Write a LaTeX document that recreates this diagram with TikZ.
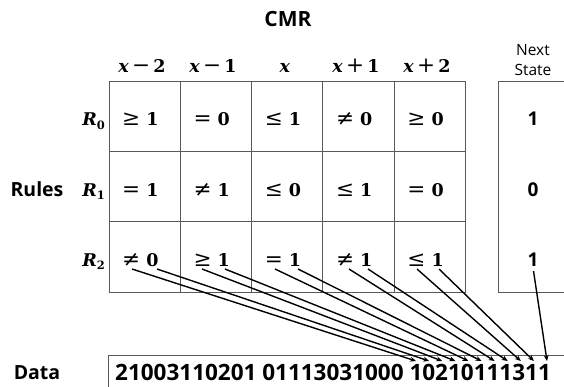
\documentclass[tikz,border=0pt]{standalone}
\usepackage{fontspec}
\setmainfont{Open Sans}
\newfontfamily\dvs{DejaVu Serif}
\usetikzlibrary{arrows.meta}
\newcommand{\hx}{\textbf{\textit{x}}}
\newcommand{\bigsym}[1]{{\fontsize{21.5}{20}\selectfont #1}}
\newcommand{\cnd}[2]{\bigsym{#1}\hspace{0.35em}\textbf{#2}}
\newcommand{\hdrt}[2]{\hx\hspace{0.18em}\bigsym{#1}\hspace{0.18em}\textbf{#2}}
\newcommand{\rsub}[1]{\textbf{\textit{R}}\raisebox{-3.5pt}{\fontsize{11.5}{12}\selectfont\textbf{#1}}}
\tikzset{
  grid/.style={draw=black!65, line width=0.9pt},
  title/.style={font=\fontsize{21}{24}\selectfont\bfseries, inner sep=0, anchor=base},
  lbl/.style={font=\fontsize{19.5}{22}\selectfont\bfseries, inner sep=0, anchor=base},
  hdr/.style={font=\fontsize{17.5}{20}\selectfont\dvs, inner sep=0, anchor=base},
  cond/.style={font=\fontsize{17.5}{20}\selectfont\dvs, inner sep=0, anchor=base west},
  rlab/.style={font=\fontsize{17.5}{20}\selectfont\dvs, inner sep=0, anchor=base east},
  small/.style={font=\fontsize{15.5}{18}\selectfont, inner sep=0, anchor=base},
  val/.style={font=\fontsize{19}{22}\selectfont\bfseries, inner sep=0, anchor=base},
  datatext/.style={font=\fontsize{22.5}{26}\selectfont\bfseries, inner sep=0, anchor=base west},
  arr/.style={-{Stealth[length=6pt,width=5pt]}, line width=1.4pt},
}
\begin{document}
\begin{tikzpicture}[x=1pt,y=-1pt]
\useasboundingbox (0,0) rectangle (564,386);
\clip (0,0) rectangle (564,386);
% table grid
\draw[grid] (109,81) rectangle (465.5,292);
\foreach \xx in {180.3,251.6,322.9,394.2} \draw[grid] (\xx,81) -- (\xx,292);
\foreach \yy in {151.3,221.7} \draw[grid] (109,\yy) -- (465.5,\yy);
% next state box
\draw[grid] (498,81) rectangle (600,292);
% data box
\draw[grid] (108,355) rectangle (600,420);
% title
\node[title] (cmr) at (288,26) {CMR};
% headers
\node[hdr] (h1) at (142,72) {\hdrt{−}{2}};
\node[hdr] (h2) at (213,72) {\hdrt{−}{1}};
\node[hdr] (h3) at (285,72) {\hx};
\node[hdr] (h4) at (356,72) {\hdrt{+}{1}};
\node[hdr] (h5) at (427,72) {\hdrt{+}{2}};
\node[small] (next) at (533,55) {Next};
\node[small] (state) at (533,75) {State};
% row labels
\node[rlab] (r0) at (105,125.7) {\rsub{0}};
\node[rlab] (r1) at (105,196) {\rsub{1}};
\node[rlab] (r2) at (105,266.3) {\rsub{2}};
\node[lbl] (rules) at (37,196) {Rules};
% row 0
\node[cond] (c01) at (122,125.7) {\cnd{≥}{1}};
\node[cond] (c02) at (193.3,125.7) {\cnd{=}{0}};
\node[cond] (c03) at (264.6,125.7) {\cnd{≤}{1}};
\node[cond] (c04) at (335.9,125.7) {\cnd{≠}{0}};
\node[cond] (c05) at (407.2,125.7) {\cnd{≥}{0}};
% row 1
\node[cond] (c11) at (122,196) {\cnd{=}{1}};
\node[cond] (c12) at (193.3,196) {\cnd{≠}{1}};
\node[cond] (c13) at (264.6,196) {\cnd{≤}{0}};
\node[cond] (c14) at (335.9,196) {\cnd{≤}{1}};
\node[cond] (c15) at (407.2,196) {\cnd{=}{0}};
% row 2
\node[cond] (c21) at (122,266.3) {\cnd{≠}{0}};
\node[cond] (c22) at (193.3,266.3) {\cnd{≥}{1}};
\node[cond] (c23) at (264.6,266.3) {\cnd{=}{1}};
\node[cond] (c24) at (335.9,266.3) {\cnd{≠}{1}};
\node[cond] (c25) at (407.2,266.3) {\cnd{≤}{1}};
% next state values
\node[val] (n0) at (533,125.7) {1};
\node[val] (n1) at (533,196) {0};
\node[val] (n2) at (533,266.3) {1};
% data
\node[lbl] (data) at (37,379) {Data};
\node[datatext] (dstr) at (115,380) {21003110201 01113031000 10210111311};
% arrow start points
\coordinate (s1) at (132,269);
\coordinate (s2) at (157,269);
\coordinate (s3) at (202,269);
\coordinate (s4) at (225,269);
\coordinate (s5) at (275,269);
\coordinate (s6) at (298,269);
\coordinate (s7) at (349,269);
\coordinate (s8) at (368,269);
\coordinate (s9) at (417,269);
\coordinate (s10) at (439,269);
\coordinate (s11) at (533.5,271);
% arrow targets
\foreach \k in {1,...,11} {
  \coordinate (t\k) at ({416+13.1*(\k-1)},361);
}
\foreach \k in {1,...,11} {
  \draw[arr] (s\k) -- (t\k);
}
\end{tikzpicture}
\end{document}
